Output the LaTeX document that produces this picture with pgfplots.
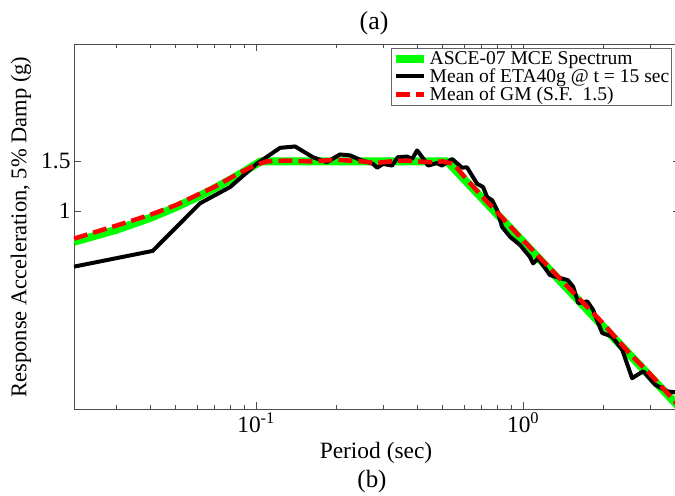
\documentclass[border=0pt]{standalone}
\usepackage{pgfplots}
\pgfplotsset{compat=1.18}
\usepackage{fontspec}
\setmainfont{Liberation Serif}
\definecolor{mcegreen}{RGB}{0,255,0}
\definecolor{gmred}{RGB}{255,0,0}
\begin{document}
\begin{tikzpicture}[x=1bp,y=1bp]
\begin{axis}[
  at={(74bp,87bp)}, anchor=south west,
  scale only axis, width=606bp, height=365bp,
  xmode=log, ymode=log,
  xmin=0.0208, xmax=3.87, ymin=0.2, ymax=3.9,
  xtick={0.1,1}, xticklabels={10\textsuperscript{-1},10\textsuperscript{0}},
  minor xtick={0.03,0.04,0.05,0.06,0.07,0.08,0.09,0.2,0.3,0.4,0.5,0.6,0.7,0.8,0.9,2,3},
  ytick={1,1.5}, yticklabels={1,1.5}, yminorticks=false,
  tick align=inside, xtick pos=both, ytick pos=both,
  major tick length=7bp, minor tick length=4bp,
  tick style={black!70, line width=0.6bp},
  axis line style={black!70, line width=0.8bp},
  ticklabel style={font=\fontsize{23.5}{26}\selectfont},
  legend style={at={(rel axis cs:0.523,0.989)}, anchor=north west,
    draw=black!60, line width=0.6bp, font=\fontsize{19.6}{22}\selectfont,
    inner xsep=1bp, inner ysep=1bp, row sep=-1bp,
    nodes={inner xsep=1.5bp}},
  legend cell align=left,
  legend image code/.code={\draw[#1] (0bp,0bp) -- (28bp,0bp);},
]
\addplot[mcegreen, line width=8bp, line join=round] coordinates {
(0.0208,0.780) (0.03,0.860) (0.04,0.946) (0.05,1.033) (0.06,1.119) (0.07,1.206)
(0.08,1.292) (0.09,1.379) (0.104,1.500) (0.52,1.500) (0.6,1.300) (0.8,0.975)
(1.0,0.780) (1.5,0.520) (2.0,0.390) (3.0,0.260) (3.87,0.2016)};
\addlegendentry{ASCE-07 MCE Spectrum}
\addplot[black, line width=4bp, line join=round] coordinates {
(0.0208,0.637) (0.041,0.724) (0.0617,1.067) (0.080,1.218) (0.101,1.476)
(0.123,1.675) (0.140,1.694) (0.163,1.553) (0.184,1.49) (0.206,1.587)
(0.225,1.575) (0.245,1.52) (0.274,1.47) (0.284,1.425) (0.299,1.47)
(0.323,1.45) (0.340,1.553) (0.368,1.56) (0.384,1.53) (0.401,1.64)
(0.419,1.553) (0.441,1.45) (0.476,1.48) (0.497,1.45) (0.542,1.53)
(0.591,1.425) (0.616,1.43) (0.673,1.25) (0.708,1.218) (0.733,1.123)
(0.766,1.093) (0.800,1.008) (0.834,0.880) (0.894,0.812) (0.975,0.759)
(1.06,0.690) (1.09,0.654) (1.14,0.681) (1.26,0.595) (1.38,0.580)
(1.47,0.571) (1.54,0.541) (1.61,0.473) (1.74,0.480) (1.83,0.448)
(1.91,0.402) (1.98,0.371) (2.15,0.361) (2.35,0.324) (2.56,0.257)
(2.82,0.272) (3.12,0.244) (3.46,0.231) (3.87,0.228)};
\addlegendentry{Mean of ETA40g @ t = 15 sec}
\addplot[gmred, line width=4.5bp, dash pattern=on 14bp off 6bp] coordinates {
(0.0208,0.80) (0.03,0.89) (0.04,0.97) (0.05,1.05) (0.06,1.14) (0.07,1.22)
(0.08,1.31) (0.09,1.39) (0.1,1.46) (0.11,1.50) (0.13,1.51) (0.16,1.50)
(0.2,1.52) (0.25,1.50) (0.28,1.48) (0.32,1.50) (0.36,1.51) (0.4,1.50)
(0.45,1.49) (0.5,1.50) (0.55,1.47) (0.6,1.33) (0.7,1.13) (0.8,0.99)
(0.9,0.88) (1.0,0.79) (1.2,0.66) (1.5,0.53) (2,0.40) (2.5,0.315)
(3,0.265) (3.87,0.203)};
\addlegendentry{Mean of GM (S.F.\ \ 1.5)}
\end{axis}
\node[font=\fontsize{26}{28}\selectfont] at (374,473) {(a)};
\node[font=\fontsize{23.5}{26}\selectfont] at (376,43) {Period (sec)};
\node[font=\fontsize{25}{27}\selectfont] at (372,14) {(b)};
\node[font=\fontsize{22.6}{25}\selectfont, rotate=90] at (21,269) {Response Acceleration, 5\% Damp (g)};
\pgfresetboundingbox
\useasboundingbox (0,0) rectangle (675,496);
\end{tikzpicture}
\end{document}
